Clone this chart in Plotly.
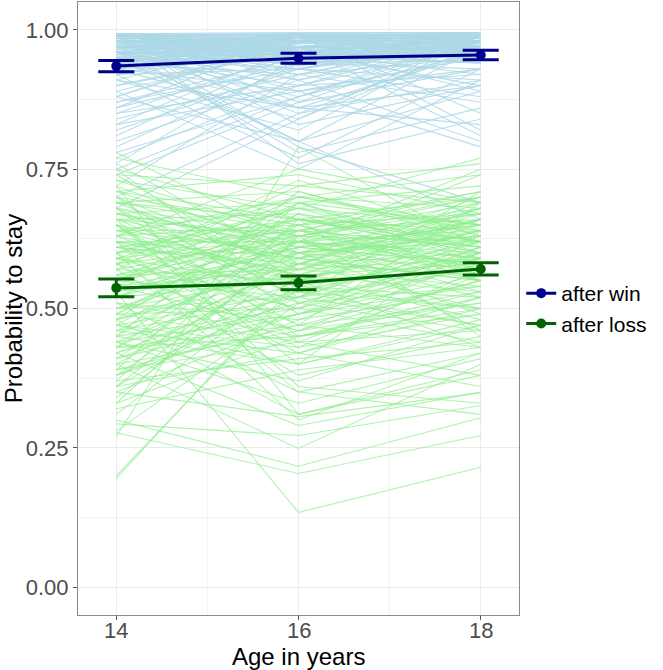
import plotly.graph_objects as go

ages = [14, 16, 18]
age_labels = ["14", "16", "18"]

# summary means and error half-widths
win_mean = [0.935, 0.949, 0.955]
win_err = [0.010, 0.009, 0.0085]
loss_mean = [0.537, 0.546, 0.571]
loss_err = [0.016, 0.0125, 0.011]

# individual trajectories: after win (values at 14, 16, 18)
win_subjects = [
    (0.99, 0.99, 0.99), (0.99, 0.98, 0.99), (0.98, 0.99, 0.99), (0.99, 0.97, 0.98),
    (0.97, 0.99, 0.99), (0.98, 0.98, 0.99), (0.96, 0.99, 0.98), (0.99, 0.96, 0.99),
    (0.95, 0.98, 0.99), (0.97, 0.97, 0.98), (0.98, 0.95, 0.97), (0.94, 0.99, 0.97),
    (0.99, 0.94, 0.96), (0.96, 0.96, 0.99), (0.93, 0.98, 0.98), (0.97, 0.93, 0.99),
    (0.95, 0.97, 0.96), (0.99, 0.95, 0.95), (0.92, 0.97, 0.99), (0.98, 0.92, 0.98),
    (0.94, 0.96, 0.97), (0.96, 0.94, 0.93), (0.91, 0.99, 0.98), (0.99, 0.91, 0.97),
    (0.93, 0.95, 0.99), (0.97, 0.96, 0.92), (0.90, 0.96, 0.98), (0.95, 0.90, 0.99),
    (0.89, 0.97, 0.96), (0.98, 0.89, 0.95), (0.92, 0.93, 0.97), (0.88, 0.98, 0.99),
    (0.96, 0.88, 0.98), (0.87, 0.95, 0.97), (0.99, 0.87, 0.93), (0.86, 0.94, 0.99),
    (0.94, 0.86, 0.96), (0.85, 0.96, 0.98), (0.97, 0.85, 0.91), (0.84, 0.92, 0.99),
    (0.93, 0.84, 0.97), (0.83, 0.97, 0.95), (0.99, 0.83, 0.90), (0.82, 0.93, 0.98),
    (0.91, 0.82, 0.99), (0.81, 0.96, 0.94), (0.95, 0.80, 0.97), (0.80, 0.91, 0.99),
    (0.88, 0.80, 0.89), (0.79, 0.94, 0.96), (0.97, 0.78, 0.86), (0.78, 0.88, 0.99),
    (0.92, 0.77, 0.93), (0.77, 0.90, 0.97), (0.99, 0.76, 0.84), (0.76, 0.95, 0.99),
    (0.89, 0.75, 0.91), (0.74, 0.87, 0.98), (0.96, 0.91, 0.80), (0.90, 0.97, 0.81),
    (0.93, 0.89, 0.79), (0.72, 0.92, 0.95), (0.98, 0.86, 0.83), (0.86, 0.99, 0.82),
    (0.70, 0.85, 0.97), (0.99, 0.79, 0.69), (0.87, 0.93, 0.88), (0.85, 0.90, 0.92),
    (0.94, 0.92, 0.87), (0.91, 0.86, 0.90), (0.83, 0.89, 0.93), (0.97, 0.99, 0.85),
    (0.99, 0.97, 0.89), (0.95, 0.93, 0.91), (0.98, 0.96, 0.90), (0.92, 0.99, 0.99),
    (0.88, 0.99, 0.97), (0.99, 0.99, 0.98), (0.98, 0.99, 0.98), (0.99, 0.98, 0.98),
    (0.75, 0.88, 0.96), (0.68, 0.84, 0.99), (0.96, 0.80, 0.66), (0.99, 0.99, 0.97),
    (0.97, 0.98, 0.99), (0.98, 0.97, 0.96), (0.96, 0.98, 0.97), (0.99, 0.96, 0.98),
    (0.993, 0.995, 0.995), (0.992, 0.994, 0.995), (0.993, 0.985, 0.995), (0.985, 0.993, 0.99),
    (0.975, 0.99, 0.995), (0.99, 0.975, 0.985), (0.965, 0.985, 0.99), (0.98, 0.965, 0.99),
    (0.955, 0.975, 0.985), (0.99, 0.955, 0.975), (0.945, 0.97, 0.99), (0.975, 0.945, 0.98),
    (0.985, 0.98, 0.965), (0.94, 0.985, 0.975), (0.96, 0.95, 0.985), (0.95, 0.965, 0.955),
    (0.935, 0.96, 0.99), (0.99, 0.94, 0.945), (0.97, 0.955, 0.94), (0.985, 0.935, 0.995),
    (0.93, 0.99, 0.96), (0.965, 0.97, 0.975), (0.945, 0.95, 0.965), (0.99, 0.985, 0.955),
    (0.955, 0.99, 0.945), (0.975, 0.94, 0.96), (0.94, 0.975, 0.995), (0.98, 0.96, 0.95),
    (0.993, 0.99, 0.985), (0.96, 0.993, 0.99), (0.97, 0.985, 0.995), (0.99, 0.97, 0.995),
    (0.95, 0.945, 0.99), (0.985, 0.95, 0.97), (0.935, 0.97, 0.98), (0.975, 0.99, 0.96),
    (0.993, 0.98, 0.99), (0.988, 0.992, 0.98), (0.978, 0.982, 0.992), (0.968, 0.978, 0.988),
    (0.958, 0.968, 0.978), (0.948, 0.958, 0.972), (0.938, 0.948, 0.962), (0.993, 0.962, 0.952),
    (0.982, 0.952, 0.942), (0.972, 0.942, 0.992), (0.962, 0.938, 0.982), (0.952, 0.988, 0.948),
    (0.942, 0.978, 0.958), (0.932, 0.968, 0.968), (0.99, 0.958, 0.988), (0.98, 0.948, 0.978),
]

# individual trajectories: after loss (values at 14, 16, 18)
loss_subjects = [
    (0.78, 0.62, 0.55), (0.77, 0.70, 0.74), (0.76, 0.58, 0.66), (0.75, 0.66, 0.60),
    (0.74, 0.72, 0.69), (0.74, 0.55, 0.62), (0.73, 0.68, 0.77), (0.72, 0.60, 0.52),
    (0.71, 0.74, 0.67), (0.70, 0.49, 0.58), (0.70, 0.65, 0.71), (0.69, 0.71, 0.63),
    (0.69, 0.57, 0.68), (0.68, 0.63, 0.59), (0.68, 0.45, 0.50), (0.67, 0.69, 0.72),
    (0.67, 0.61, 0.65), (0.66, 0.53, 0.61), (0.66, 0.67, 0.56), (0.65, 0.59, 0.70),
    (0.65, 0.40, 0.47), (0.64, 0.64, 0.66), (0.64, 0.56, 0.53), (0.63, 0.70, 0.64),
    (0.63, 0.51, 0.60), (0.62, 0.62, 0.75), (0.62, 0.47, 0.55), (0.61, 0.66, 0.62),
    (0.61, 0.58, 0.68), (0.60, 0.43, 0.57), (0.60, 0.60, 0.49), (0.59, 0.68, 0.65),
    (0.59, 0.54, 0.59), (0.58, 0.73, 0.63), (0.58, 0.50, 0.61), (0.57, 0.63, 0.69),
    (0.57, 0.38, 0.45), (0.56, 0.57, 0.54), (0.56, 0.65, 0.67), (0.55, 0.52, 0.62),
    (0.55, 0.61, 0.58), (0.54, 0.46, 0.51), (0.54, 0.69, 0.60), (0.53, 0.134, 0.215),
    (0.53, 0.59, 0.66), (0.52, 0.55, 0.57), (0.52, 0.64, 0.71), (0.51, 0.48, 0.53),
    (0.51, 0.35, 0.42), (0.50, 0.62, 0.64), (0.50, 0.56, 0.48), (0.49, 0.67, 0.61),
    (0.49, 0.44, 0.56), (0.48, 0.58, 0.67), (0.48, 0.31, 0.39), (0.47, 0.53, 0.60),
    (0.47, 0.65, 0.55), (0.46, 0.42, 0.52), (0.46, 0.60, 0.68), (0.45, 0.50, 0.58),
    (0.45, 0.71, 0.62), (0.44, 0.37, 0.47), (0.44, 0.57, 0.64), (0.43, 0.64, 0.56),
    (0.43, 0.45, 0.53), (0.42, 0.55, 0.66), (0.42, 0.29, 0.35), (0.41, 0.62, 0.59),
    (0.41, 0.49, 0.61), (0.40, 0.249, 0.40), (0.40, 0.58, 0.50), (0.39, 0.69, 0.65),
    (0.39, 0.44, 0.46), (0.38, 0.52, 0.63), (0.38, 0.60, 0.57), (0.37, 0.41, 0.44),
    (0.37, 0.66, 0.70), (0.36, 0.54, 0.52), (0.35, 0.48, 0.60), (0.35, 0.306, 0.349),
    (0.34, 0.59, 0.55), (0.33, 0.45, 0.49), (0.33, 0.63, 0.62), (0.32, 0.39, 0.43),
    (0.31, 0.56, 0.58), (0.30, 0.217, 0.304), (0.293, 0.272, 0.326), (0.28, 0.51, 0.54),
    (0.277, 0.204, 0.272), (0.27, 0.79, 0.61), (0.20, 0.54, 0.50), (0.195, 0.55, 0.57),
    (0.66, 0.36, 0.33), (0.72, 0.31, 0.38), (0.60, 0.30, 0.42), (0.58, 0.42, 0.36),
    (0.63, 0.75, 0.69), (0.57, 0.72, 0.76), (0.65, 0.47, 0.69), (0.55, 0.66, 0.45),
    (0.50, 0.52, 0.71), (0.62, 0.55, 0.43), (0.53, 0.61, 0.74), (0.48, 0.69, 0.58),
    (0.60, 0.64, 0.61), (0.66, 0.59, 0.64), (0.54, 0.60, 0.63), (0.45, 0.62, 0.67),
    (0.70, 0.57, 0.65), (0.64, 0.68, 0.59), (0.59, 0.50, 0.66), (0.52, 0.67, 0.62),
    (0.56, 0.46, 0.59), (0.61, 0.53, 0.50), (0.67, 0.62, 0.53), (0.43, 0.58, 0.69),
    (0.69, 0.64, 0.57), (0.47, 0.40, 0.64), (0.58, 0.66, 0.60), (0.63, 0.56, 0.66),
    (0.71, 0.61, 0.58), (0.49, 0.63, 0.46), (0.55, 0.70, 0.65), (0.68, 0.52, 0.47),
    (0.40, 0.46, 0.55), (0.36, 0.61, 0.63), (0.44, 0.33, 0.41), (0.65, 0.44, 0.38),
    (0.75, 0.51, 0.46), (0.62, 0.35, 0.31),
    (0.64, 0.60, 0.63), (0.58, 0.62, 0.58), (0.61, 0.57, 0.66), (0.55, 0.64, 0.61),
    (0.67, 0.58, 0.60), (0.52, 0.61, 0.65), (0.63, 0.65, 0.57), (0.57, 0.55, 0.63),
    (0.60, 0.68, 0.62), (0.66, 0.63, 0.68), (0.54, 0.57, 0.59), (0.62, 0.59, 0.55),
    (0.50, 0.60, 0.62), (0.59, 0.63, 0.67), (0.65, 0.55, 0.64), (0.56, 0.62, 0.60),
    (0.69, 0.66, 0.61), (0.48, 0.56, 0.64), (0.61, 0.64, 0.70), (0.53, 0.58, 0.56),
    (0.46, 0.52, 0.57), (0.44, 0.49, 0.54), (0.51, 0.45, 0.52), (0.42, 0.51, 0.59),
    (0.39, 0.47, 0.51), (0.47, 0.43, 0.49), (0.41, 0.53, 0.47), (0.36, 0.42, 0.50),
    (0.49, 0.50, 0.44), (0.45, 0.40, 0.48), (0.38, 0.49, 0.56), (0.43, 0.47, 0.43),
    (0.68, 0.60, 0.66), (0.71, 0.66, 0.64), (0.73, 0.63, 0.70), (0.60, 0.70, 0.68),
]

series_names = ["after win", "after loss"]
x_title = "Age in years"
y_title = "Probability to stay"

fig = go.Figure()

for subj in win_subjects:
    fig.add_trace(go.Scatter(x=ages, y=list(subj), mode="lines",
                             line=dict(color="rgba(173,216,230,0.85)", width=1.1),
                             showlegend=False, hoverinfo="skip"))
for subj in loss_subjects:
    fig.add_trace(go.Scatter(x=ages, y=list(subj), mode="lines",
                             line=dict(color="rgba(144,238,144,0.72)", width=1.1),
                             showlegend=False, hoverinfo="skip"))

for name, mean, err, col in [(series_names[0], win_mean, win_err, "#00008B"),
                             (series_names[1], loss_mean, loss_err, "#006400")]:
    fig.add_trace(go.Scatter(
        x=ages, y=mean, mode="lines+markers", name=name,
        line=dict(color=col, width=3),
        marker=dict(color=col, size=10),
        error_y=dict(type="data", array=err, color=col, thickness=3, width=18),
    ))

font_family = "Liberation Sans, Arial, sans-serif"

annotations = [dict(
    text=lab, xref="x", yref="paper", x=a, y=-0.0245,
    xanchor="center", yanchor="middle", showarrow=False,
    font=dict(size=22, color="#4D4D4D"),
) for a, lab in zip(ages, age_labels)]
annotations.append(dict(
    text=x_title, xref="paper", yref="paper", x=0.5, y=-0.068,
    xanchor="center", yanchor="middle", showarrow=False,
    font=dict(size=24, color="#000000"),
))

fig.update_layout(
    width=663, height=670,
    margin=dict(l=78, r=144, t=2, b=55),
    paper_bgcolor="white", plot_bgcolor="white",
    font=dict(family=font_family, color="#000000"),
    legend=dict(x=1.005, y=0.5, xanchor="left", yanchor="middle",
                font=dict(size=21, color="#000000"), itemwidth=30,
                tracegroupgap=0, bgcolor="rgba(0,0,0,0)"),
    xaxis=dict(
        range=[13.58, 18.42], tickmode="array", tickvals=ages,
        showticklabels=False,
        showgrid=True, gridcolor="#EBEBEB", gridwidth=1.2,
        minor=dict(tickvals=[15, 17], showgrid=True, gridcolor="#F3F3F3", gridwidth=0.6, ticks=""),
        showline=True, mirror=True, linecolor="#8A8A8A", linewidth=1.2,
        ticks="outside", ticklen=4, tickcolor="#555555",
        zeroline=False,
    ),
    yaxis=dict(
        range=[-0.05, 1.05], tickmode="array", tickvals=[0, 0.25, 0.5, 0.75, 1.0],
        ticktext=["0.00", "0.25", "0.50", "0.75", "1.00"],
        showgrid=True, gridcolor="#EBEBEB", gridwidth=1.2,
        minor=dict(tickvals=[0.125, 0.375, 0.625, 0.875], showgrid=True, gridcolor="#F3F3F3", gridwidth=0.6, ticks=""),
        showline=True, mirror=True, linecolor="#8A8A8A", linewidth=1.2,
        ticks="outside", ticklen=4, tickcolor="#555555",
        tickfont=dict(size=22, color="#4D4D4D"),
        title=dict(text=y_title, font=dict(size=24, color="#000000"), standoff=3),
        zeroline=False,
    ),
    annotations=annotations,
)

fig.write_html("out.html")
